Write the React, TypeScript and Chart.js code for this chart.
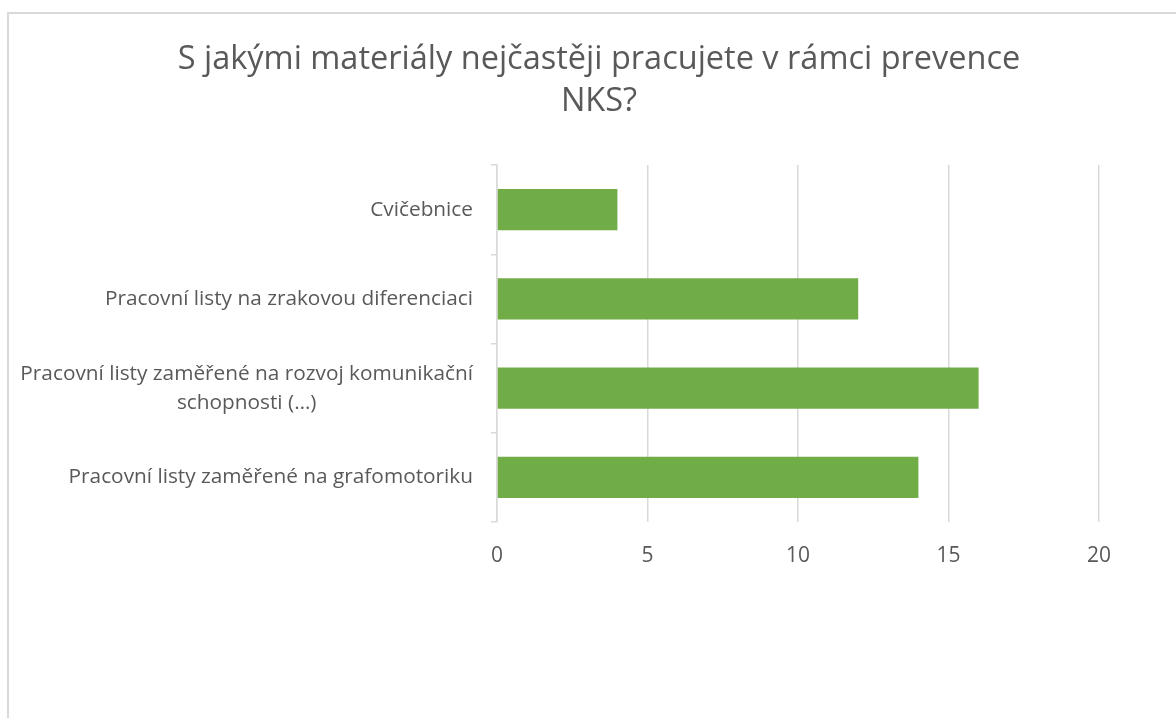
import React, { useEffect, useRef } from "react";
import { Chart, registerables } from "chart.js";

Chart.register(...registerables);

const titleLines = ["S jakými materiály nejčastěji pracujete v rámci prevence", "NKS?"];
const categories: (string | string[])[] = [
  "Cvičebnice",
  "Pracovní listy na zrakovou diferenciaci",
  ["Pracovní listy zaměřené na rozvoj komunikační", "schopnosti (…)"],
  "Pracovní listy zaměřené na grafomotoriku",
];
const values = [4, 12, 16, 14];
const xMin = 0;
const xMax = 20;
const xStep = 5;

const FONT = "'Open Sans', 'Noto Sans', sans-serif";
const TEXT = "#595959";
const GRID = "#d9d9d9";
const BAR = "#70AD47";
const LABEL_SIZE = 20.8;
const LABEL_LH = 29;

const yLabelPlugin = {
  id: "yLabelPlugin",
  afterDraw(chart: any) {
    const s = chart.scales.y;
    const ctx = chart.ctx;
    ctx.save();
    ctx.font = `${LABEL_SIZE}px ${FONT}`;
    ctx.fillStyle = TEXT;
    ctx.textBaseline = "middle";
    ctx.textAlign = "center";
    (chart.data.labels as (string | string[])[]).forEach((lab, i) => {
      const lines = Array.isArray(lab) ? lab : [lab];
      const y = s.getPixelForValue(i);
      const maxW = Math.max(...lines.map((l) => ctx.measureText(l).width));
      const cx = s.right - 24 - maxW / 2;
      lines.forEach((l, j) => {
        ctx.fillText(l, cx, y + (j - (lines.length - 1) / 2) * LABEL_LH);
      });
    });
    ctx.restore();
  },
};

export default function App() {
  const ref = useRef<HTMLCanvasElement | null>(null);
  useEffect(() => {
    if (!ref.current) return;
    const chart = new Chart(ref.current, {
      type: "bar",
      data: {
        labels: categories as any,
        datasets: [
          {
            data: values,
            backgroundColor: BAR,
            borderWidth: 0,
            categoryPercentage: 1,
            barPercentage: 0.46,
          },
        ],
      },
      options: {
        indexAxis: "y",
        responsive: false,
        animation: false,
        layout: { padding: { left: 90, right: 90, top: 0, bottom: 0 } },
        plugins: {
          legend: { display: false },
          tooltip: { enabled: false },
          title: {
            display: true,
            text: titleLines,
            color: TEXT,
            font: { family: FONT, size: 32.5, weight: "normal" as any, lineHeight: "42px" as any },
            padding: { top: 25, bottom: 42 },
          },
        },
        scales: {
          x: {
            type: "linear",
            min: xMin,
            max: xMax,
            ticks: {
              stepSize: xStep,
              color: TEXT,
              font: { family: FONT, size: 21 },
              padding: 21,
            },
            grid: { color: GRID, lineWidth: 1.5, drawTicks: false },
            border: { display: false },
            afterFit(scale: any) {
              scale.height = 196;
            },
          },
          y: {
            type: "category",
            ticks: { display: false },
            grid: {
              display: true,
              drawOnChartArea: false,
              drawTicks: true,
              tickLength: 6,
              offset: true,
              color: GRID,
              lineWidth: 1.5,
            },
            border: { display: true, color: GRID, width: 1.5 },
            afterFit(scale: any) {
              scale.width = 398;
            },
          },
        },
      },
      plugins: [yLabelPlugin],
    });
    return () => chart.destroy();
  }, []);

  return (
    <div
      style={{
        position: "absolute",
        left: 7,
        top: 12,
        width: 1169,
        height: 706,
        borderLeft: `2px solid ${GRID}`,
        borderTop: `2px solid ${GRID}`,
        boxSizing: "border-box",
        overflow: "hidden",
        background: "#fff",
      }}
    >
      <canvas ref={ref} width={1180} height={704} style={{ display: "block" }} />
    </div>
  );
}
